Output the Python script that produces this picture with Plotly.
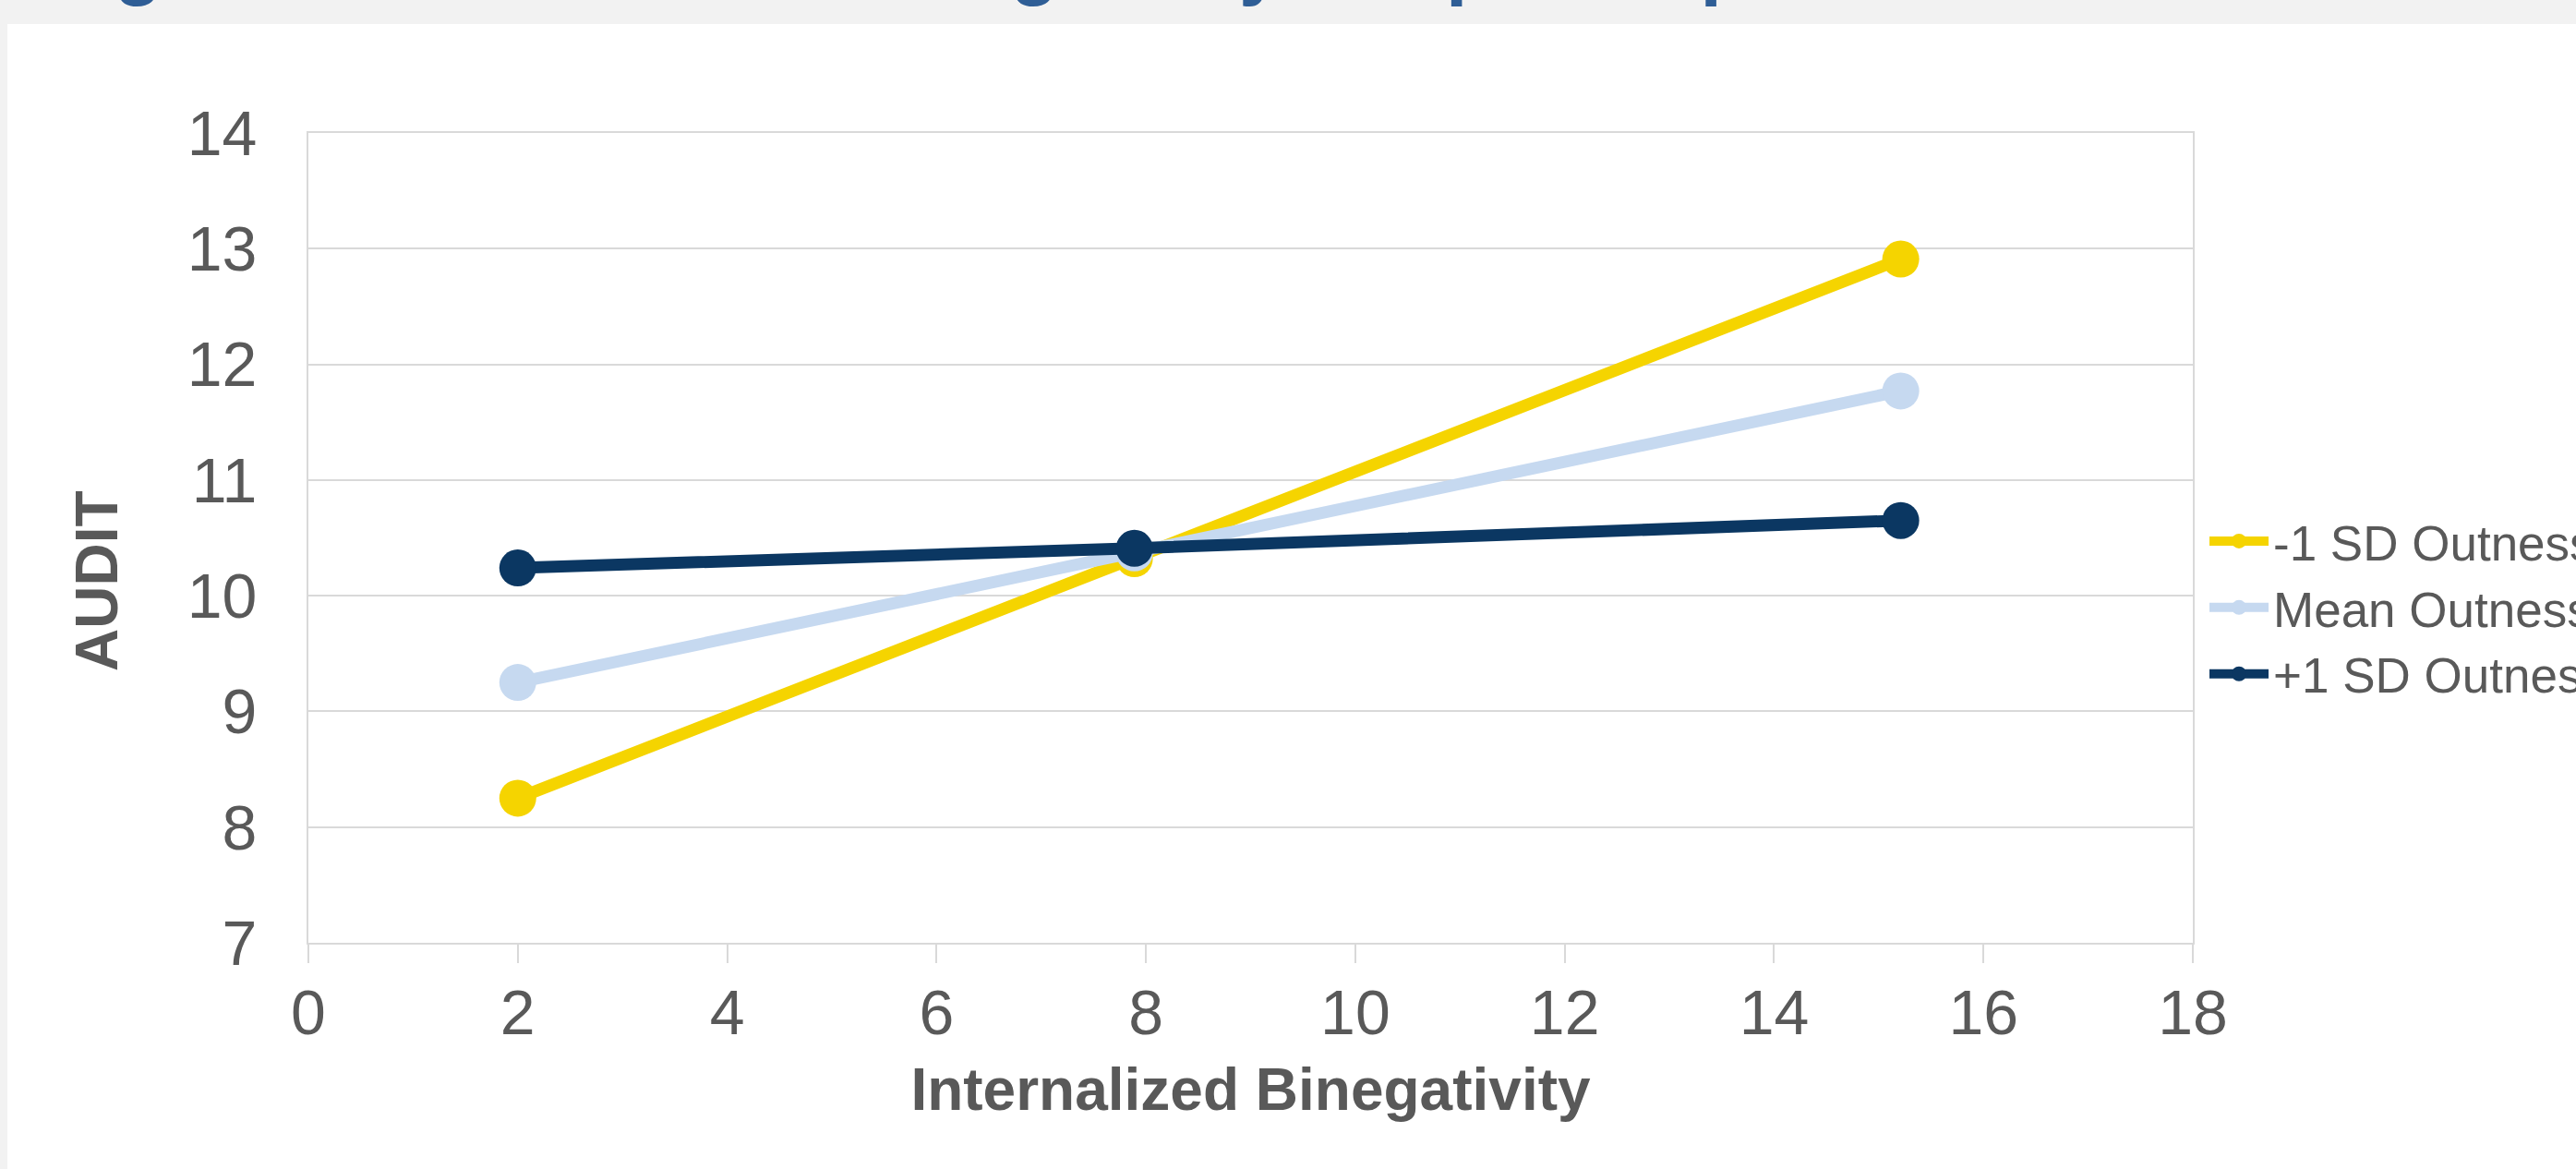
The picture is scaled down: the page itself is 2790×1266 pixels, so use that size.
import plotly.graph_objects as go

# Simple slopes: AUDIT by internalized binegativity at three levels of outness
binegativity = [2.0, 7.89, 15.21]
low_outness = [8.25, 10.32, 12.91]
mean_outness = [9.25, 10.37, 11.77]
high_outness = [10.24, 10.41, 10.65]

series_names = ["-1 SD Outness", "Mean Outness", "+1 SD Outness"]
series_values = [low_outness, mean_outness, high_outness]
series_colors = ["#F5D400", "#C6D9F0", "#0B3762"]

x_ticks = list(range(0, 19, 2))
y_ticks = list(range(7, 15))

title_text = "Figure 2. Internalized Binegativity Simple Slopes"
x_title = "Internalized Binegativity"
y_title = "AUDIT"

W, H = 2790, 1266
M = dict(l=334, r=415, t=144, b=245, autoexpand=False)
FONT = "Arial, 'Liberation Sans', sans-serif"
GRID = "#D9D9D9"
TEXT = "#595959"


def paper_x(px):
    return (px - M["l"]) / (W - M["l"] - M["r"])


def paper_y(py):
    return (H - M["b"] - py) / (H - M["t"] - M["b"])


fig = go.Figure()
for name, vals, color in zip(series_names, series_values, series_colors):
    fig.add_trace(go.Scatter(
        x=binegativity, y=vals, name=name, mode="lines+markers",
        line=dict(color=color, width=13),
        marker=dict(color=color, size=40, line=dict(width=0)),
    ))

fig.update_layout(
    width=W, height=H, margin=M,
    paper_bgcolor="#F2F2F2", plot_bgcolor="white",
    font=dict(family=FONT, color=TEXT, size=68),
    showlegend=True,
    legend=dict(
        x=paper_x(2388), y=paper_y(658), xanchor="left", yanchor="middle",
        font=dict(size=53, color=TEXT, family=FONT),
        bgcolor="rgba(0,0,0,0)", itemwidth=64, tracegroupgap=0,
    ),
    xaxis=dict(
        range=[0, 18], tickvals=x_ticks, showgrid=False, zeroline=False,
        showline=True, linecolor=GRID, linewidth=2, mirror=True,
        ticks="outside", ticklen=20, tickwidth=2, tickcolor=GRID,
        tickfont=dict(size=68, color=TEXT), ticklabelstandoff=-5,
        title=dict(text=f"<b>{x_title}</b>",
                   font=dict(size=64, color=TEXT, family=FONT), standoff=25),
    ),
    xaxis2=dict(
        range=[0, 18], tickvals=x_ticks, overlaying="x", anchor="y", side="bottom",
        showgrid=False, zeroline=False, showline=False, showticklabels=False,
        ticks="inside", ticklen=19, tickwidth=2, tickcolor=GRID,
    ),
    yaxis=dict(
        range=[7, 14], tickvals=y_ticks, showgrid=True, gridcolor=GRID, gridwidth=2,
        zeroline=False, showline=True, linecolor=GRID, linewidth=2, mirror=True,
        ticks="", tickfont=dict(size=68, color=TEXT), ticklabelstandoff=40,
    ),
    shapes=[dict(
        type="rect", xref="paper", yref="paper", layer="below",
        x0=paper_x(8), x1=paper_x(W + 5), y0=paper_y(H + 5), y1=paper_y(26),
        fillcolor="white", line=dict(width=0),
    )],
    annotations=[
        dict(
            text=f"<b>{title_text}</b>", xref="paper", yref="paper",
            x=paper_x(47), y=paper_y(10), xanchor="left", yanchor="bottom",
            showarrow=False, font=dict(size=84, color="#2F5E96", family=FONT),
        ),
        # vertical axis title
        dict(
            text=f"<b>{y_title}</b>", xref="paper", yref="paper",
            x=paper_x(105), y=paper_y(629), xanchor="center", yanchor="middle",
            textangle=-90, showarrow=False,
            font=dict(size=64, color=TEXT, family=FONT),
        ),
    ],
)

fig.write_html("out.html")
